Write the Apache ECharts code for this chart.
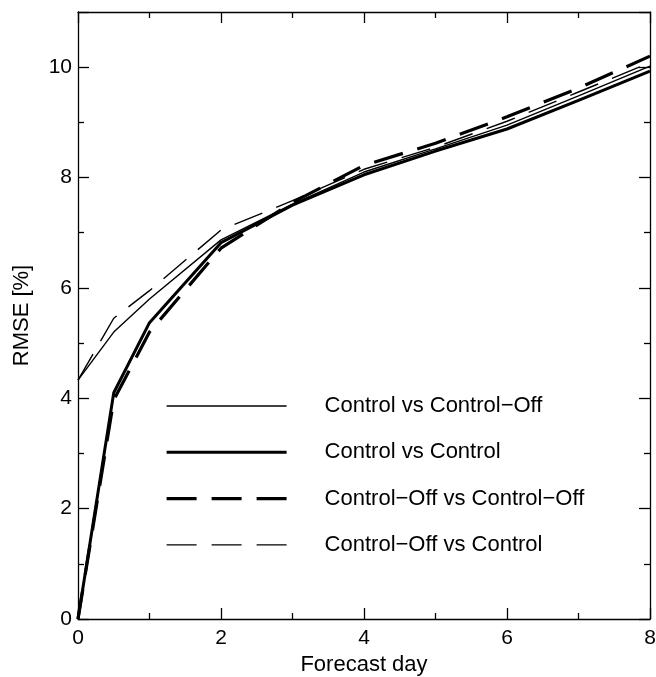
<!DOCTYPE html>
<html>
<head>
<meta charset="utf-8">
<script src="https://cdn.jsdelivr.net/npm/echarts@6/dist/echarts.min.js"></script>
<style>
  html, body { margin: 0; padding: 0; background: #fff; }
  #chart { width: 656px; height: 677px; }
</style>
</head>
<body>
<div id="chart"></div>
<script>
  // forecast days and RMSE values
  var days = [0, 0.5, 1, 2, 3, 4, 5, 6, 7, 8];
  var ctrlVsOff = [4.33, 5.2, 5.8, 6.87, 7.52, 8.1, 8.52, 8.95, 9.48, 10.02];
  var ctrlVsCtrl = [0, 4.1, 5.37, 6.82, 7.5, 8.05, 8.48, 8.88, 9.4, 9.93];
  var offVsOff = [0, 3.97, 5.2, 6.72, 7.55, 8.22, 8.62, 9.1, 9.62, 10.2];
  var offVsCtrl = [4.33, 5.45, 5.95, 7.05, 7.58, 8.15, 8.55, 9.02, 9.55, 10.08];
  var seriesNames = ['Control vs Control\u2212Off', 'Control vs Control',
                     'Control\u2212Off vs Control\u2212Off', 'Control\u2212Off vs Control'];

  var font = 'Liberation Sans, Arial, sans-serif';
  var black = '#000';
  var fs = 21;

  function pairs(ys) {
    return days.map(function (d, i) { return [d, ys[i]]; });
  }

  function mkSeries(name, ys, width, dashed) {
    return {
      name: name,
      type: 'line',
      data: pairs(ys),
      symbol: 'none',
      silent: true,
      z: width > 2 ? 3 : 4,
      itemStyle: { color: black },
      lineStyle: {
        color: black,
        width: width,
        type: dashed ? [30, 15] : 'solid',
        cap: 'butt'
      }
    };
  }

  var tickCommon = {
    axisLine: { show: true, onZero: false, lineStyle: { color: black, width: 1.3 } },
    axisTick: { show: true, inside: true, length: 11, lineStyle: { color: black, width: 1.3 } },
    minorTick: { show: true, splitNumber: 2, length: 6, lineStyle: { color: black, width: 1.3 } },
    splitLine: { show: false }
  };

  var chart = echarts.init(document.getElementById('chart'));
  chart.setOption({
    animation: false,
    backgroundColor: '#fff',
    grid: { left: 78, right: 6, top: 12, bottom: 58, outerBoundsMode: 'none', containLabel: false },
    legend: {
      orient: 'vertical',
      left: 165,
      top: 395,
      padding: 0,
      itemWidth: 120,
      itemHeight: 22,
      itemGap: 24.3,
      data: seriesNames,
      itemStyle: { opacity: 0 },
      lineStyle: { width: 'inherit' },
      textStyle: { fontFamily: font, fontSize: 22, color: black, padding: [0, 0, 0, 33] },
      selectedMode: false
    },
    xAxis: [
      Object.assign({
        type: 'value', min: 0, max: 8, interval: 2, position: 'bottom',
        name: 'Forecast day', nameLocation: 'middle', nameGap: 30,
        nameTextStyle: { fontFamily: font, fontSize: 22, color: black },
        axisLabel: { fontFamily: font, fontSize: fs, color: black, margin: 9 }
      }, tickCommon),
      Object.assign({
        type: 'value', min: 0, max: 8, interval: 2, position: 'top',
        axisLabel: { show: false }
      }, tickCommon)
    ],
    yAxis: [
      Object.assign({
        type: 'value', min: 0, max: 11, interval: 2, position: 'left',
        name: 'RMSE [%]', nameLocation: 'middle', nameGap: 45,
        nameTextStyle: { fontFamily: font, fontSize: 22, color: black },
        axisLabel: { fontFamily: font, fontSize: fs, color: black, margin: 6,
          showMaxLabel: false }
      }, tickCommon),
      Object.assign({
        type: 'value', min: 0, max: 11, interval: 2, position: 'right',
        axisLabel: { show: false }
      }, tickCommon)
    ],
    series: [
      mkSeries(seriesNames[0], ctrlVsOff, 1.4, false),
      mkSeries(seriesNames[1], ctrlVsCtrl, 3, false),
      mkSeries(seriesNames[2], offVsOff, 3.2, true),
      mkSeries(seriesNames[3], offVsCtrl, 1.4, true)
    ]
  });
</script>
</body>
</html>
